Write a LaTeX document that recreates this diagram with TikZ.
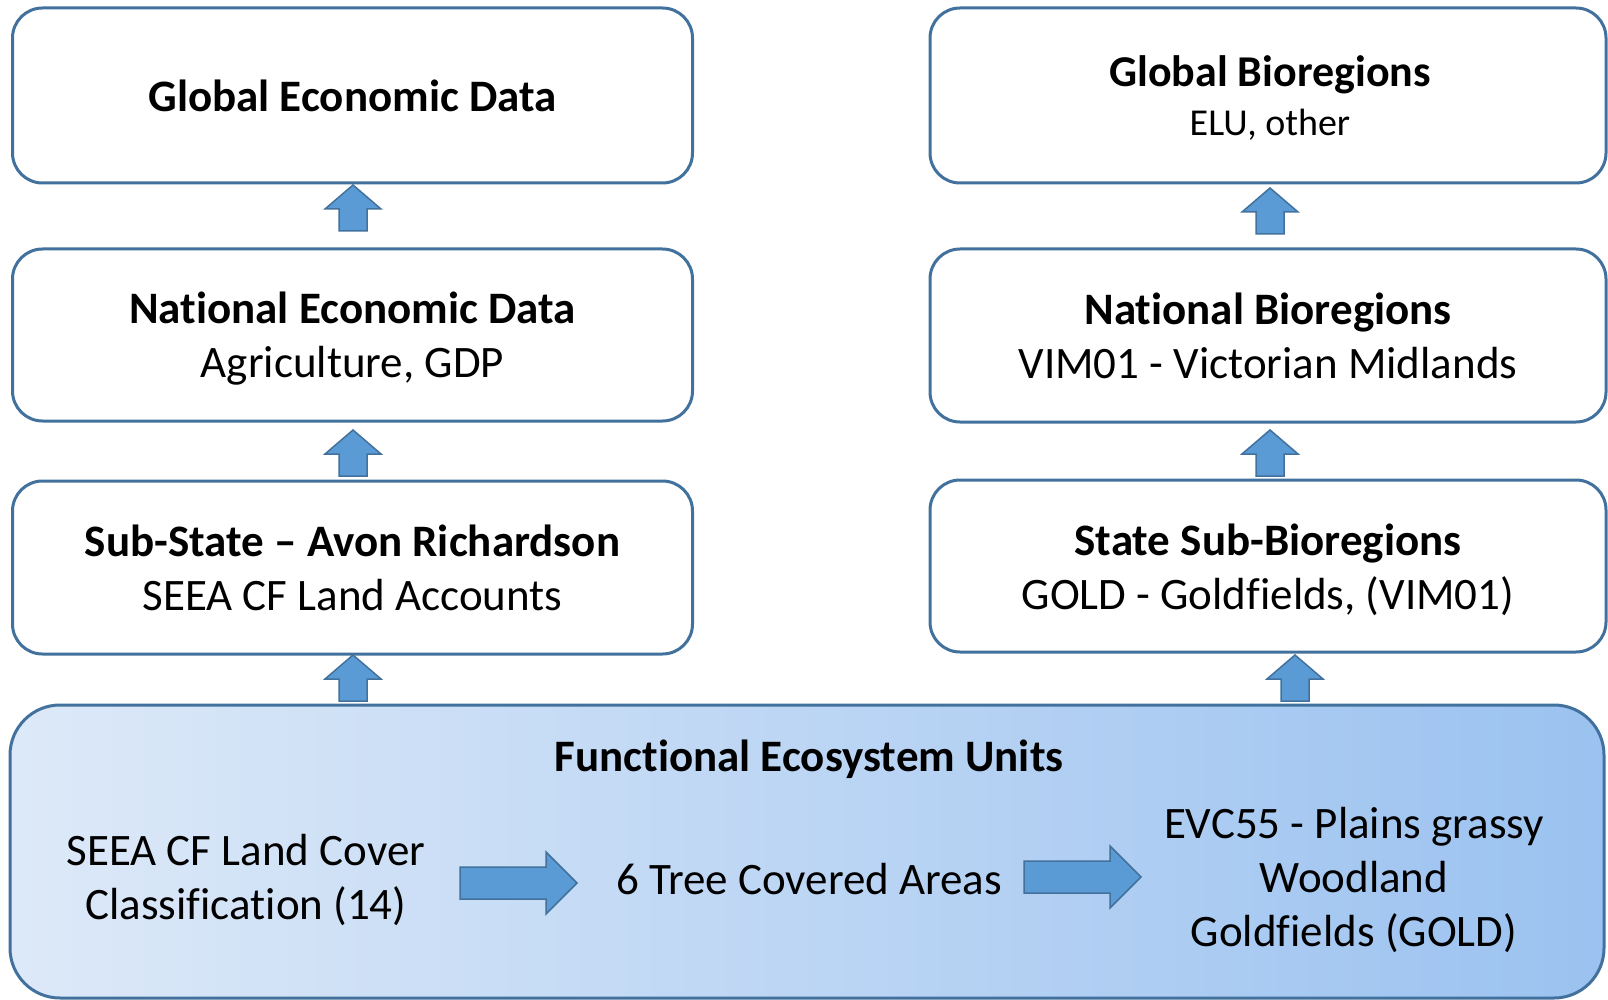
\documentclass[tikz,border=0pt]{standalone}
\usepackage{fontspec}
\setmainfont{Carlito}[RawFeature={-liga;-clig;-calt;-rlig}]
\usetikzlibrary{calc}
\definecolor{bordblue}{RGB}{65,113,156}
\definecolor{arrblue}{RGB}{91,155,213}
\definecolor{gradL}{RGB}{221,233,248}
\definecolor{gradR}{RGB}{155,194,240}
\tikzset{
  box/.style={draw=bordblue, line width=3pt, fill=white, rounded corners=30pt,
    minimum width=680pt, inner sep=0pt},
  arrowshape/.style={draw=bordblue, line width=1.5pt, fill=arrblue, line join=miter},
  uparrow/.pic={\path[arrowshape] (-14,23) -- (-14,1) -- (-28,1) -- (0,-23) -- (28,1) -- (14,1) -- (14,23) -- cycle;},
  rightarrow/.pic={\path[arrowshape] (-58,-16) -- (28,-16) -- (28,-31) -- (59,0) -- (28,31) -- (28,16) -- (-58,16) -- cycle;},
  plain/.style={align=center, inner sep=0pt, font=\fontsize{45}{54}\selectfont}
}
\begin{document}
\begin{tikzpicture}[x=1pt,y=-1pt]
\useasboundingbox (0,0) rectangle (1608,1000);
% left column
\node[box, minimum height=175pt] (l1) at (352.5,95.5) {};
\node[box, minimum height=172pt] (l2) at (352.5,335) {};
\node[box, minimum height=173pt] (l3) at (352.5,567.5) {};
\node[plain] (l1t) at (352.5,95.5) {\textbf{Global Economic Data}};
\node[plain] (l2t) at (352.5,339) {\textbf{National Economic Data}\\Agriculture, GDP};
\node[plain] (l3t) at (352.5,567.5) {\textbf{Sub-State -- Avon Richardson}\\SEEA CF Land Accounts};
% right column
\node[box, minimum width=676pt, minimum height=175pt] (r1) at (1268,95.5) {};
\node[box, minimum width=676pt, minimum height=173pt] (r2) at (1268,335.5) {};
\node[box, minimum width=676pt, minimum height=172pt] (r3) at (1268,566) {};
\node[plain, anchor=base] (r1t) at (1270,87) {\fontsize{44}{50}\selectfont\textbf{Global Bioregions}};
\node[plain, anchor=base] (r1s) at (1270,136) {\fontsize{38}{46}\selectfont ELU, other};
\node[plain] (r2t) at (1268,336) {\textbf{National Bioregions}\\VIM01 - Victorian Midlands};
\node[plain] (r3t) at (1268,570) {\textbf{State Sub-Bioregions}\\GOLD - Goldfields, (VIM01)};
% bottom box
\node[draw=bordblue, line width=3pt, rounded corners=50pt, left color=gradL, right color=gradR,
  minimum width=1594pt, minimum height=293pt, inner sep=0pt] (feu) at (807,851.5) {};
\node[plain, anchor=base] (feut) at (809,771) {\textbf{Functional Ecosystem Units}};
\node[plain] (lc) at (246,879.5) {SEEA CF Land Cover\\Classification (14)};
\node[plain] (tca) at (809,879) {6 Tree Covered Areas};
\node[plain] (evc) at (1354,880) {EVC55 - Plains grassy\\Woodland\\Goldfields (GOLD)};
% arrows
\pic at (353,208) {uparrow};
\pic at (353,453) {uparrow};
\pic at (353,678) {uparrow};
\pic at (1270,211) {uparrow};
\pic at (1270,453) {uparrow};
\pic at (1295,678) {uparrow};
\pic at (518,883) {rightarrow};
\pic at (1082,877) {rightarrow};
\end{tikzpicture}
\end{document}
